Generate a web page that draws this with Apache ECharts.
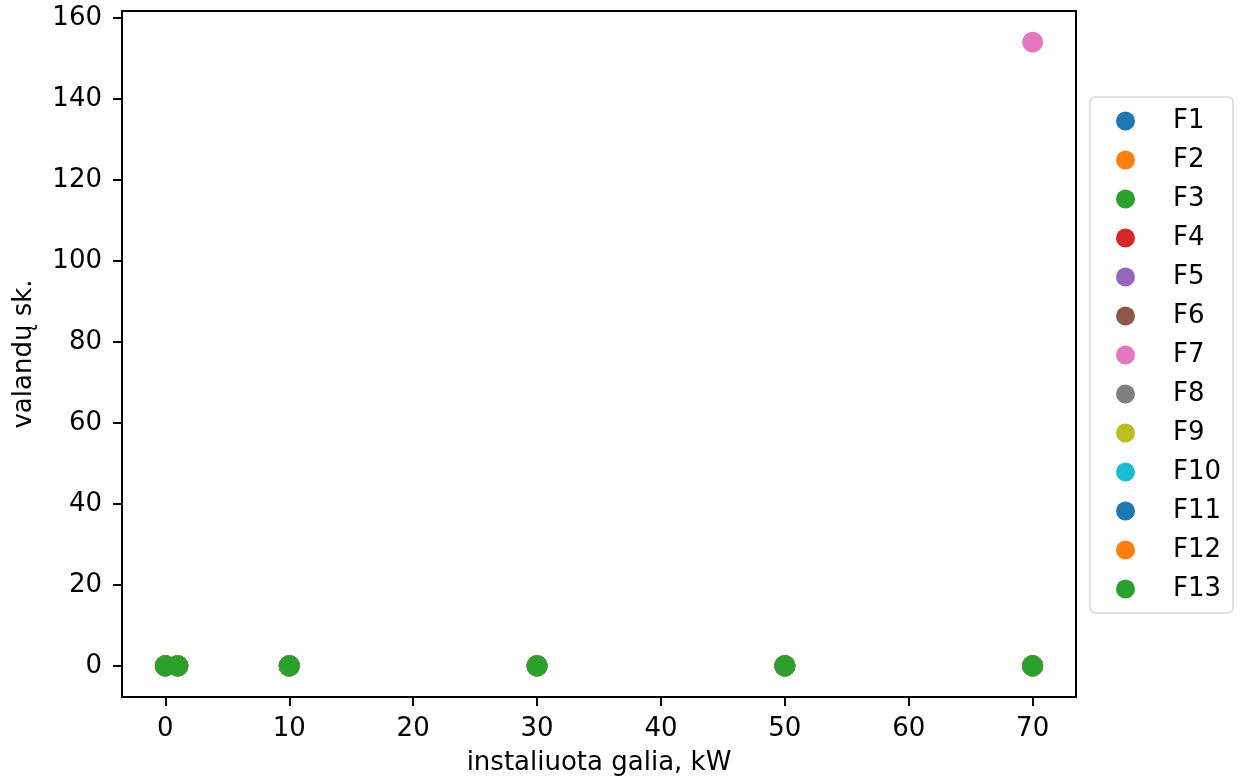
<!DOCTYPE html>
<html>
<head>
<meta charset="utf-8">
<script src="https://cdn.jsdelivr.net/npm/echarts@6/dist/echarts.min.js"></script>
<style>
  html, body { margin: 0; padding: 0; background: #fff; }
  #chart { width: 1245px; height: 782px; }
</style>
</head>
<body>
<div id="chart"></div>
<script>
// Installed capacity (kW) at which each series is sampled
const capacityKw = [0, 1, 10, 30, 50, 70];

// Hours per series, aligned with capacityKw
const F1  = [0, 0, 0, 0, 0, 0];
const F2  = [0, 0, 0, 0, 0, 0];
const F3  = [0, 0, 0, 0, 0, 0];
const F4  = [0, 0, 0, 0, 0, 0];
const F5  = [0, 0, 0, 0, 0, 0];
const F6  = [0, 0, 0, 0, 0, 0];
const F7  = [0, 0, 0, 0, 0, 154];
const F8  = [0, 0, 0, 0, 0, 0];
const F9  = [0, 0, 0, 0, 0, 0];
const F10 = [0, 0, 0, 0, 0, 0];
const F11 = [0, 0, 0, 0, 0, 0];
const F12 = [0, 0, 0, 0, 0, 0];
const F13 = [0, 0, 0, 0, 0, 0];

const seriesNames = ['F1','F2','F3','F4','F5','F6','F7','F8','F9','F10','F11','F12','F13'];
const seriesValues = [F1, F2, F3, F4, F5, F6, F7, F8, F9, F10, F11, F12, F13];

const xTicks = [0, 10, 20, 30, 40, 50, 60, 70];
const yTicks = [0, 20, 40, 60, 80, 100, 120, 140, 160];

const palette = ['#1f77b4','#ff7f0e','#2ca02c','#d62728','#9467bd','#8c564b',
                 '#e377c2','#7f7f7f','#bcbd22','#17becf'];

const FONT = 'DejaVu Sans';
const FS = 26;

const chart = echarts.init(document.getElementById('chart'), null, { renderer: 'canvas' });

const series = seriesNames.map((name, i) => ({
  name: name,
  type: 'scatter',
  symbol: 'circle',
  symbolSize: 21,
  itemStyle: { color: palette[i % palette.length], opacity: 1 },
  emphasis: { disabled: true },
  data: capacityKw.map((x, j) => [x, seriesValues[i][j]])
}));

chart.setOption({
  animation: false,
  color: palette,
  grid: {
    left: 122, right: 169, top: 11, bottom: 85,
    show: true, borderColor: '#000', borderWidth: 2, backgroundColor: 'transparent'
  },
  xAxis: {
    type: 'value',
    min: -3.5, max: 73.5,
    name: 'instaliuota galia, kW',
    nameLocation: 'middle',
    nameGap: 53,
    nameTextStyle: { fontFamily: FONT, fontSize: FS, color: '#000' },
    splitLine: { show: false },
    axisLine: { show: true, onZero: false, lineStyle: { color: '#000', width: 2 } },
    axisTick: { show: true, length: 9, lineStyle: { color: '#000', width: 2 }, customValues: xTicks },
    axisLabel: { fontFamily: FONT, fontSize: FS, color: '#000', margin: 19, customValues: xTicks }
  },
  yAxis: {
    type: 'value',
    min: -7.7, max: 161.7,
    name: 'valandų sk.',
    nameLocation: 'middle',
    nameGap: 85,
    nameTextStyle: { fontFamily: FONT, fontSize: FS, color: '#000' },
    splitLine: { show: false },
    axisLine: { show: true, onZero: false, lineStyle: { color: '#000', width: 2 } },
    axisTick: { show: true, length: 9, lineStyle: { color: '#000', width: 2 }, customValues: yTicks },
    axisLabel: { fontFamily: FONT, fontSize: FS, color: '#000', margin: 20, customValues: yTicks }
  },
  legend: {
    orient: 'vertical',
    left: 1090,
    top: 97,
    padding: [11, 12, 11, 26],
    itemWidth: 19,
    itemHeight: 19,
    itemGap: 13,
    icon: 'circle',
    borderColor: '#d6d6d6',
    borderWidth: 1.5,
    borderRadius: 5,
    backgroundColor: '#fff',
    selectedMode: false,
    textStyle: { fontFamily: FONT, fontSize: FS, color: '#000', lineHeight: 26, padding: [0, 0, 0, 33] },
    data: seriesNames
  },
  series: series
});
</script>
</body>
</html>
